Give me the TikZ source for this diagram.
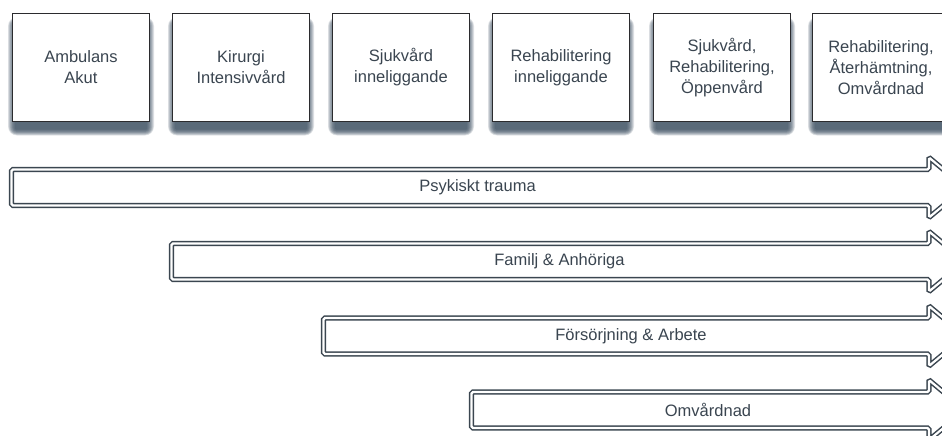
\documentclass[tikz,border=0pt]{standalone}
\usepackage{fontspec}
\setmainfont{Liberation Sans}
\definecolor{txt}{HTML}{3A4550}
\definecolor{edge}{HTML}{2B2B2E}
\definecolor{arr}{HTML}{3B4650}
\definecolor{shad}{HTML}{34475A}
\tikzset{
  stagebox/.style={draw=edge, line width=1.4pt, fill=white, minimum width=137pt, minimum height=108pt,
    align=center, text=txt, font=\fontsize{16.5}{21}\selectfont, inner sep=0pt},
  shadowlayer/.style={fill=shad, fill opacity=0.14},
  flowarrow/.style={draw=arr, line width=1.5pt, double=white, double distance=2.2pt, fill=white, rounded corners=1.5pt, line join=miter},
  flowlabel/.style={text=txt, font=\fontsize{16.5}{20}\selectfont, inner sep=0pt}
}
\begin{document}
\begin{tikzpicture}[x=1pt,y=-1pt]
\useasboundingbox (0,0) rectangle (942,436);
\clip (0,0) rectangle (942,436);
% soft shadows below the stage boxes
\foreach \cx in {81,241,401,561,722,881}{
  \foreach \k in {0,...,10}{
    \fill[shadowlayer, rounded corners=\k*0.8pt+1pt]
      (\cx-66-\k*0.7,24-\k*0.7) rectangle (\cx+66+\k*0.7,129.5+\k*0.6);
  }
}
% stage boxes
\node[stagebox] (b1) at (81,67.5) {Ambulans\\Akut};
\node[stagebox] (b2) at (241,67.5) {Kirurgi\\Intensivvård};
\node[stagebox] (b3) at (401,67.5) {Sjukvård\\inneliggande};
\node[stagebox] (b4) at (561,67.5) {Rehabilitering\\inneliggande};
\node[stagebox] (b5) at (722,67.5) {Sjukvård,\\Rehabilitering,\\Öppenvård};
\node[stagebox] (b6) at (881,67.5) {Rehabilitering,\\Återhämtning,\\Omvårdnad};
% arrows
\foreach \xs/\yc in {11.5/187.5, 171.5/261.5, 323.5/336, 471.5/410}{
  \draw[flowarrow] (\xs,\yc-18) -- (929,\yc-18) -- (929,\yc-30) -- (965,\yc)
     -- (929,\yc+30) -- (929,\yc+18) -- (\xs,\yc+18) -- cycle;
}
\node[flowlabel] (a1) at (477.5,187.5) {Psykiskt trauma};
\node[flowlabel] (a2) at (559.5,261.5) {Familj \& Anhöriga};
\node[flowlabel] (a3) at (631,336) {Försörjning \& Arbete};
\node[flowlabel] (a4) at (708,410) {Omvårdnad};
\end{tikzpicture}
\end{document}
